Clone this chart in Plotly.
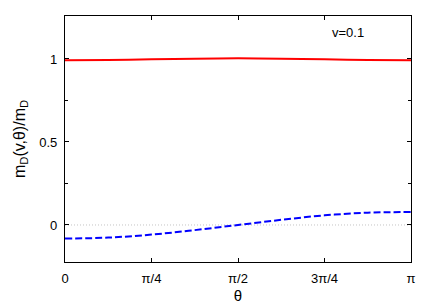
import numpy as np
import plotly.graph_objects as go

theta = [0, np.pi/8, np.pi/4, 3*np.pi/8, np.pi/2, 5*np.pi/8, 3*np.pi/4, 7*np.pi/8, np.pi]
red_vals = [0.992, 0.994, 0.998, 1.002, 1.004, 1.002, 0.998, 0.994, 0.992]
blue_vals = [-0.082, -0.076, -0.058, -0.031, 0.0, 0.031, 0.058, 0.074, 0.078]
xtick_vals = [0, np.pi/4, np.pi/2, 3*np.pi/4, np.pi]
xtick_text = ["0", "π/4", "π/2", "3π/4", "π"]
ytick_vals = [0, 0.5, 1]
ytick_text = ["0", "0.5", "1"]

FONT = "Liberation Sans, Arial"

fig = go.Figure()
fig.add_trace(go.Scatter(x=[0, np.pi], y=[0, 0], mode="lines",
                         line=dict(color="#aaaaaa", width=0.7, dash="1px,2px"), hoverinfo="skip"))
fig.add_trace(go.Scatter(x=theta, y=red_vals, mode="lines", line=dict(color="#ff0000", width=2, shape="spline")))
fig.add_trace(go.Scatter(x=theta, y=blue_vals, mode="lines",
                         line=dict(color="#0000ff", width=2, shape="spline", dash="7px,3px")))

fig.add_annotation(x=0.817*np.pi, y=1.157, text="v=0.1", showarrow=False,
                   font=dict(size=13, color="black", family=FONT), xanchor="center", yanchor="middle")

axis_common = dict(showgrid=False, zeroline=False, showline=True, linecolor="black", linewidth=1.3,
                   mirror="allticks", ticks="inside", ticklen=4, tickcolor="black", automargin=False,
                   tickfont=dict(size=13, color="black", family=FONT), ticklabelstandoff=4)
fig.update_xaxes(range=[0, np.pi], tickvals=xtick_vals, ticktext=xtick_text,
                 title=dict(text="θ", font=dict(size=15, color="black", family=FONT), standoff=5),
                 **axis_common)
fig.update_yaxes(range=[-0.223, 1.259], tickvals=ytick_vals, ticktext=ytick_text,
                 minor=dict(tickvals=[0.25, 0.75], ticks="inside", ticklen=3, tickcolor="black"),
                 title=dict(text="m<sub>D</sub>(v,θ)/m<sub>D</sub>", font=dict(size=16, color="black", family=FONT), standoff=9),
                 **axis_common)
fig.update_layout(width=428, height=297, margin=dict(l=57, r=25, t=8, b=43),
                  plot_bgcolor="white", paper_bgcolor="white", showlegend=False)
fig.write_html("out.html")
